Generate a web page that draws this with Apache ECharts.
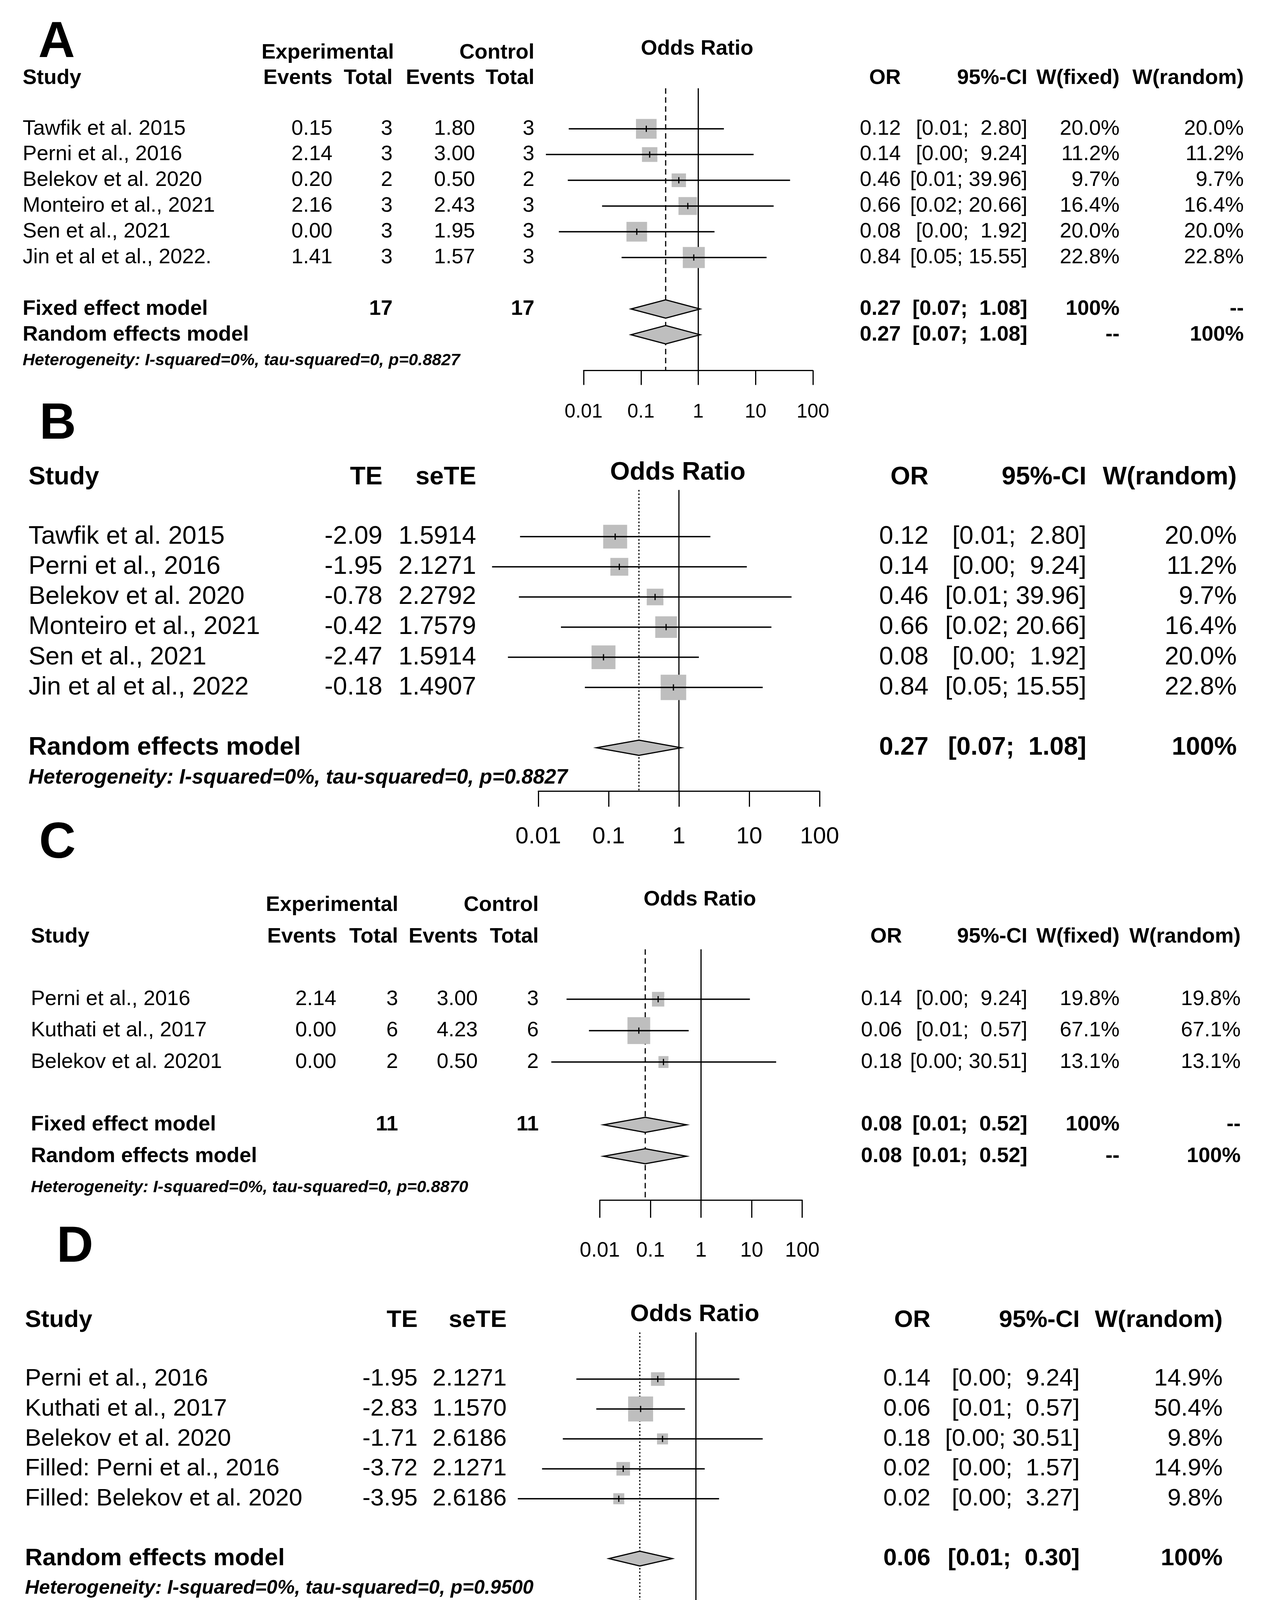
<!DOCTYPE html>
<html><head><meta charset="utf-8">
<script src="https://cdn.jsdelivr.net/npm/echarts@6/dist/echarts.min.js"></script>
<style>html,body{margin:0;padding:0;background:#fff}#c{width:3246px;height:4282px}</style>
</head><body><div id="c"></div>
<script>
// ================= DATA =================
// Panel A (binary outcome table)
const studiesA = ['Tawfik et al. 2015','Perni et al., 2016','Belekov et al. 2020','Monteiro et al., 2021','Sen et al., 2021','Jin et al et al., 2022.'];
const expEventsA = [0.15, 2.14, 0.20, 2.16, 0.00, 1.41];
const expTotalA = [3, 3, 2, 3, 3, 3];
const ctrlEventsA = [1.80, 3.00, 0.50, 2.43, 1.95, 1.57];
const ctrlTotalA = [3, 3, 2, 3, 3, 3];
const orA = [0.124, 0.142, 0.458, 0.657, 0.0846, 0.8353];
const loA = [0.0055, 0.0022, 0.0053, 0.021, 0.0037, 0.046];
const hiA = [2.80, 9.24, 39.96, 20.66, 1.92, 15.55];
const wFixedA = [20.0, 11.2, 9.7, 16.4, 20.0, 22.8];
const wRandomA = [20.0, 11.2, 9.7, 16.4, 20.0, 22.8];
const pooledFixedA = [0.27, 0.067, 1.08];
const pooledRandomA = [0.27, 0.067, 1.08];
const totalsA = [17, 17];
const hetA = 'Heterogeneity: I-squared=0%, tau-squared=0, p=0.8827';

// Panel B (TE / seTE table)
const studiesB = ['Tawfik et al. 2015','Perni et al., 2016','Belekov et al. 2020','Monteiro et al., 2021','Sen et al., 2021','Jin et al et al., 2022'];
const teB = [-2.09, -1.95, -0.78, -0.42, -2.47, -0.18];
const seB = [1.5914, 2.1271, 2.2792, 1.7579, 1.5914, 1.4907];
const orB = [0.124, 0.142, 0.458, 0.657, 0.0846, 0.8353];
const loB = [0.0055, 0.0022, 0.0053, 0.021, 0.0037, 0.046];
const hiB = [2.80, 9.24, 39.96, 20.66, 1.92, 15.55];
const wRandomB = [20.0, 11.2, 9.7, 16.4, 20.0, 22.8];
const pooledRandomB = [0.27, 0.067, 1.08];
const hetB = 'Heterogeneity: I-squared=0%, tau-squared=0, p=0.8827';

// Panel C (binary outcome table)
const studiesC = ['Perni et al., 2016','Kuthati et al., 2017','Belekov et al. 20201'];
const expEventsC = [2.14, 0.00, 0.00];
const expTotalC = [3, 6, 2];
const ctrlEventsC = [3.00, 4.23, 0.50];
const ctrlTotalC = [3, 6, 2];
const orC = [0.142, 0.059, 0.181];
const loC = [0.0022, 0.0061, 0.0011];
const hiC = [9.24, 0.57, 30.51];
const wFixedC = [19.8, 67.1, 13.1];
const wRandomC = [19.8, 67.1, 13.1];
const pooledFixedC = [0.079, 0.0118, 0.52];
const pooledRandomC = [0.079, 0.0118, 0.52];
const totalsC = [11, 11];
const hetC = 'Heterogeneity: I-squared=0%, tau-squared=0, p=0.8870';

// Panel D (TE / seTE table, trim-and-fill)
const studiesD = ['Perni et al., 2016','Kuthati et al., 2017','Belekov et al. 2020','Filled: Perni et al., 2016','Filled: Belekov et al. 2020'];
const teD = [-1.95, -2.83, -1.71, -3.72, -3.95];
const seD = [2.1271, 1.1570, 2.6186, 2.1271, 2.6186];
const orD = [0.142, 0.059, 0.181, 0.0242, 0.0193];
const loD = [0.0022, 0.0061, 0.0011, 0.00038, 0.00011];
const hiD = [9.24, 0.57, 30.51, 1.57, 3.27];
const wRandomD = [14.9, 50.4, 9.8, 14.9, 9.8];
const pooledRandomD = [0.0566, 0.0116, 0.30];
const hetD = 'Heterogeneity: I-squared=0%, tau-squared=0, p=0.9500';

// Axis ticks
const ticksABC = [0.01, 0.1, 1, 10, 100];
const tickLabelsABC = ['0.01', '0.1', '1', '10', '100'];
const rangeABC = [0.01, 100];
const ticksD = [0.001, 0.1, 1, 10, 1000];
const tickLabelsD = ['0', '0.1', '1', '10', '1000'];
const rangeD = [0.001, 1000];

// ================= LAYOUT (pixels) =================
const W = 3246, H = 4282;
const FONT = "'Liberation Sans', Arial, Helvetica, sans-serif";
const LAY = {
  A: {row0:329.7, dy:65.9, axisRow:9.39, topRow:-1.575, gx:1494, gw:587,
      fs:54, hetfs:43, tickfs:50, tickLen:37, margin:82, sq:[11.8,11.3], dia:23.5, dash:[14,9],
      hdr1:-2.96, hdr2:-1.97, orHdr:-3.11, letter:[145,110.5],
      cols:{study:58, c1:851, c2:1005, c3:1216, c4:1368, expC:839, or:2306, ci:2630, wf:2866, wr:3184}},
  B: {row0:1373.8, dy:77.2, axisRow:8.44, topRow:-1.55, gx:1378, gw:720,
      fs:65, hetfs:53, tickfs:60, tickLen:40, margin:87, sq:[13.7,13.6], dia:19.5, dash:[4,5],
      hdr2:-1.96, orHdr:-2.12, letter:[148,1087],
      cols:{study:73, c1:979, c2:1219, or:2377, ci:2781, wr:3166}},
  C: {row0:2558, dy:80.4, axisRow:6.40, topRow:-1.59, gx:1535.5, gw:518.2,
      fs:54, hetfs:43, tickfs:53, tickLen:45, margin:103, sq:[7.1,8.4], dia:19.3, dash:[14,9],
      hdr1:-2.99, hdr2:-1.99, orHdr:-3.17, letter:[147,2160],
      cols:{study:79, c1:861, c2:1019, c3:1223, c4:1379, expC:850, or:2309, ci:2630, wf:2866, wr:3176}},
  D: {row0:3530.4, dy:76.6, axisRow:7.41, topRow:-1.56, gx:1436, gw:691,
      fs:62, hetfs:50, tickfs:62, tickLen:42, margin:92, sq:[9,9], dia:19, dash:[4,5],
      hdr2:-1.97, orHdr:-2.16, letter:[192,3194],
      cols:{study:64, c1:1069, c2:1297, or:2382, ci:2764, wr:3130}}
};
const Y_MIN = -4;

const panels = [
  {key:'A', kind:'bin', studies:studiesA, expEvents:expEventsA, expTotal:expTotalA, ctrlEvents:ctrlEventsA, ctrlTotal:ctrlTotalA,
   or:orA, lo:loA, hi:hiA, wf:wFixedA, wr:wRandomA, fixed:pooledFixedA, random:pooledRandomA, totals:totalsA, het:hetA,
   ticks:ticksABC, tickLabels:tickLabelsABC, range:rangeABC},
  {key:'B', kind:'te', studies:studiesB, te:teB, se:seB, or:orB, lo:loB, hi:hiB, wr:wRandomB, random:pooledRandomB, het:hetB,
   ticks:ticksABC, tickLabels:tickLabelsABC, range:rangeABC},
  {key:'C', kind:'bin', studies:studiesC, expEvents:expEventsC, expTotal:expTotalC, ctrlEvents:ctrlEventsC, ctrlTotal:ctrlTotalC,
   or:orC, lo:loC, hi:hiC, wf:wFixedC, wr:wRandomC, fixed:pooledFixedC, random:pooledRandomC, totals:totalsC, het:hetC,
   ticks:ticksABC, tickLabels:tickLabelsABC, range:rangeABC},
  {key:'D', kind:'te', studies:studiesD, te:teD, se:seD, or:orD, lo:loD, hi:hiD, wr:wRandomD, random:pooledRandomD, het:hetD,
   ticks:ticksD, tickLabels:tickLabelsD, range:rangeD}
];

// ================= BUILD =================
const lg = v => Math.round(Math.log10(v) * 1e6) / 1e6;
const texts = [];
function T(x, y, text, align, size, bold, italic) {
  texts.push({x, y, text: String(text), align, size, bold: !!bold, italic: !!italic});
}
function ciStrings(los, his) {
  const L = los.map(v => v.toFixed(2)), U = his.map(v => v.toFixed(2));
  const wl = Math.max(...L.map(s => s.length)), wu = Math.max(...U.map(s => s.length));
  return L.map((l, i) => '[' + l.padStart(wl, ' ') + '; ' + U[i].padStart(wu, ' ') + ']');
}

const grids = [], xAxes = [], yAxes = [], series = [];

panels.forEach((P, gi) => {
  const Ly = LAY[P.key], c = Ly.cols;
  const ry = r => Ly.row0 + r * Ly.dy;
  const n = P.studies.length;
  const logMin = lg(P.range[0]), logMax = lg(P.range[1]);
  const fs = Ly.fs;

  // grid for forest plot
  grids.push({left: Ly.gx, width: Ly.gw, top: ry(Y_MIN), height: (Ly.axisRow - Y_MIN) * Ly.dy, outerBoundsMode: 'none', containLabel: false});
  const tickLogs = P.ticks.map(lg);
  xAxes.push({
    gridIndex: gi, type: 'value', min: logMin, max: logMax, position: 'bottom',
    axisLine: {show: true, onZero: false, lineStyle: {color: '#000', width: 3}},
    axisTick: {show: true, inside: false, length: Ly.tickLen, customValues: tickLogs, lineStyle: {color: '#000', width: 3}},
    axisLabel: {show: true, margin: Ly.margin, customValues: tickLogs, color: '#000', fontSize: Ly.tickfs, fontFamily: FONT,
      showMinLabel: true, showMaxLabel: true,
      formatter: v => { let b = 0, bd = 1e9; tickLogs.forEach((t, i) => { const d = Math.abs(t - v); if (d < bd) { bd = d; b = i; } }); return P.tickLabels[b]; }},
    splitLine: {show: false}
  });
  yAxes.push({gridIndex: gi, type: 'value', inverse: true, min: Y_MIN, max: Ly.axisRow, show: false, splitLine: {show: false}});

  const pooledRows = P.kind === 'bin' ? [n + 1, n + 2] : [n + 1];
  const pooledVals = P.kind === 'bin' ? [P.fixed, P.random] : [P.random];
  const hetRow = P.kind === 'bin' ? n + 3 : n + 2;

  // reference lines: no effect (OR = 1) and pooled estimate
  series.push({
    type: 'custom', xAxisIndex: gi, yAxisIndex: gi, clip: false, silent: true, z: 1,
    data: [[0, 0], [lg(P.random[0]), 1]],
    renderItem: (params, api) => {
      const x = api.value(0), dashed = api.value(1) === 1;
      const p1 = api.coord([x, Ly.topRow]), p2 = api.coord([x, Ly.axisRow]);
      return {type: 'line', shape: {x1: p1[0], y1: p1[1], x2: p2[0], y2: p2[1]},
        style: {stroke: '#000', lineWidth: 3, lineDash: dashed ? Ly.dash : null}};
    }
  });

  // studies: squares + CI lines
  series.push({
    type: 'custom', xAxisIndex: gi, yAxisIndex: gi, clip: false, silent: true, z: 2,
    data: P.or.map((v, i) => [lg(v), i, lg(P.lo[i]), lg(P.hi[i]), P.wr[i]]),
    renderItem: (params, api) => {
      const row = api.value(1);
      const ctr = api.coord([api.value(0), row]);
      const lo = api.coord([api.value(2), row]);
      const hi = api.coord([api.value(3), row]);
      const s = Math.sqrt(api.value(4));
      const sw = Ly.sq[0] * s, sh = Ly.sq[1] * s;
      return {type: 'group', children: [
        {type: 'rect', shape: {x: ctr[0] - sw / 2, y: ctr[1] - sh / 2, width: sw, height: sh}, style: {fill: '#bebebe'}},
        {type: 'line', shape: {x1: lo[0], y1: ctr[1], x2: hi[0], y2: ctr[1]}, style: {stroke: '#000', lineWidth: 3.5}},
        {type: 'line', shape: {x1: ctr[0], y1: ctr[1] - 8, x2: ctr[0], y2: ctr[1] + 8}, style: {stroke: '#000', lineWidth: 3}}
      ]};
    }
  });

  // pooled diamonds
  series.push({
    type: 'custom', xAxisIndex: gi, yAxisIndex: gi, clip: false, silent: true, z: 3,
    data: pooledVals.map((pv, k) => [lg(pv[0]), pooledRows[k], lg(pv[1]), lg(pv[2])]),
    renderItem: (params, api) => {
      const row = api.value(1);
      const e = api.coord([api.value(0), row]);
      const lo = api.coord([api.value(2), row]);
      const hi = api.coord([api.value(3), row]);
      const h = Ly.dia;
      return {type: 'polygon', shape: {points: [[lo[0], e[1]], [e[0], e[1] - h], [hi[0], e[1]], [e[0], e[1] + h]]},
        style: {fill: '#bebebe', stroke: '#000', lineWidth: 3, lineJoin: 'miter'}};
    }
  });

  // ---------- texts ----------
  T(Ly.letter[0], Ly.letter[1], P.key, 'center', 130, true);
  const orCenterX = Ly.gx + (0 - logMin) / (logMax - logMin) * Ly.gw - 3;
  T(orCenterX, ry(Ly.orHdr), 'Odds Ratio', 'center', fs, true);
  T(c.study, ry(Ly.hdr2), 'Study', 'left', fs, true);
  if (P.kind === 'bin') {
    T(c.expC, ry(Ly.hdr1), 'Experimental', 'center', fs, true);
    T(c.c4, ry(Ly.hdr1), 'Control', 'right', fs, true);
    T(c.c1, ry(Ly.hdr2), 'Events', 'right', fs, true);
    T(c.c2, ry(Ly.hdr2), 'Total', 'right', fs, true);
    T(c.c3, ry(Ly.hdr2), 'Events', 'right', fs, true);
    T(c.c4, ry(Ly.hdr2), 'Total', 'right', fs, true);
    T(c.wf, ry(Ly.hdr2), 'W(fixed)', 'right', fs, true);
  } else {
    T(c.c1, ry(Ly.hdr2), 'TE', 'right', fs, true);
    T(c.c2, ry(Ly.hdr2), 'seTE', 'right', fs, true);
  }
  T(c.or, ry(Ly.hdr2), 'OR', 'right', fs, true);
  T(c.ci, ry(Ly.hdr2), '95%-CI', 'right', fs, true);
  T(c.wr, ry(Ly.hdr2), 'W(random)', 'right', fs, true);

  const allLo = P.lo.concat(pooledVals.map(p => p[1]));
  const allHi = P.hi.concat(pooledVals.map(p => p[2]));
  const cis = ciStrings(allLo, allHi);

  for (let i = 0; i < n; i++) {
    const y = ry(i);
    T(c.study, y, P.studies[i], 'left', fs);
    if (P.kind === 'bin') {
      T(c.c1, y, P.expEvents[i].toFixed(2), 'right', fs);
      T(c.c2, y, P.expTotal[i], 'right', fs);
      T(c.c3, y, P.ctrlEvents[i].toFixed(2), 'right', fs);
      T(c.c4, y, P.ctrlTotal[i], 'right', fs);
      T(c.wf, y, P.wf[i].toFixed(1) + '%', 'right', fs);
    } else {
      T(c.c1, y, P.te[i].toFixed(2), 'right', fs);
      T(c.c2, y, P.se[i].toFixed(4), 'right', fs);
    }
    T(c.or, y, P.or[i].toFixed(2), 'right', fs);
    T(c.ci, y, cis[i], 'right', fs);
    T(c.wr, y, P.wr[i].toFixed(1) + '%', 'right', fs);
  }
  if (P.kind === 'bin') {
    const yf = ry(pooledRows[0]), yr = ry(pooledRows[1]);
    T(c.study, yf, 'Fixed effect model', 'left', fs, true);
    T(c.c2, yf, P.totals[0], 'right', fs, true);
    T(c.c4, yf, P.totals[1], 'right', fs, true);
    T(c.or, yf, P.fixed[0].toFixed(2), 'right', fs, true);
    T(c.ci, yf, cis[n], 'right', fs, true);
    T(c.wf, yf, '100%', 'right', fs, true);
    T(c.wr, yf, '--', 'right', fs, true);
    T(c.study, yr, 'Random effects model', 'left', fs, true);
    T(c.or, yr, P.random[0].toFixed(2), 'right', fs, true);
    T(c.ci, yr, cis[n + 1], 'right', fs, true);
    T(c.wf, yr, '--', 'right', fs, true);
    T(c.wr, yr, '100%', 'right', fs, true);
  } else {
    const yr = ry(pooledRows[0]);
    T(c.study, yr, 'Random effects model', 'left', fs, true);
    T(c.or, yr, P.random[0].toFixed(2), 'right', fs, true);
    T(c.ci, yr, cis[n], 'right', fs, true);
    T(c.wr, yr, '100%', 'right', fs, true);
  }
  T(c.study, ry(hetRow), P.het, 'left', Ly.hetfs, true, true);
});

// full-canvas grid that carries the table text
const TG = grids.length;
grids.push({left: 0, top: 0, width: W, height: H, outerBoundsMode: 'none', containLabel: false});
xAxes.push({gridIndex: TG, type: 'value', min: 0, max: W, show: false, splitLine: {show: false}});
yAxes.push({gridIndex: TG, type: 'value', min: 0, max: H, inverse: true, show: false, splitLine: {show: false}});
series.push({
  type: 'custom', xAxisIndex: TG, yAxisIndex: TG, clip: false, silent: true, z: 5,
  data: texts.map((t, i) => [t.x, t.y, i]),
  renderItem: (params, api) => {
    const t = texts[api.value(2)];
    const p = api.coord([api.value(0), api.value(1)]);
    return {type: 'text', x: p[0], y: p[1], style: {
      text: t.text, fill: '#000', fontSize: t.size, fontFamily: FONT,
      fontWeight: t.bold ? 'bold' : 'normal', fontStyle: t.italic ? 'italic' : 'normal',
      align: t.align, verticalAlign: 'middle', textAlign: t.align, textVerticalAlign: 'middle'}};
  }
});

const chart = echarts.init(document.getElementById('c'), null, {renderer: 'canvas', width: W, height: H});
chart.setOption({
  backgroundColor: '#ffffff',
  animation: false,
  grid: grids, xAxis: xAxes, yAxis: yAxes, series: series
});
</script></body></html>
